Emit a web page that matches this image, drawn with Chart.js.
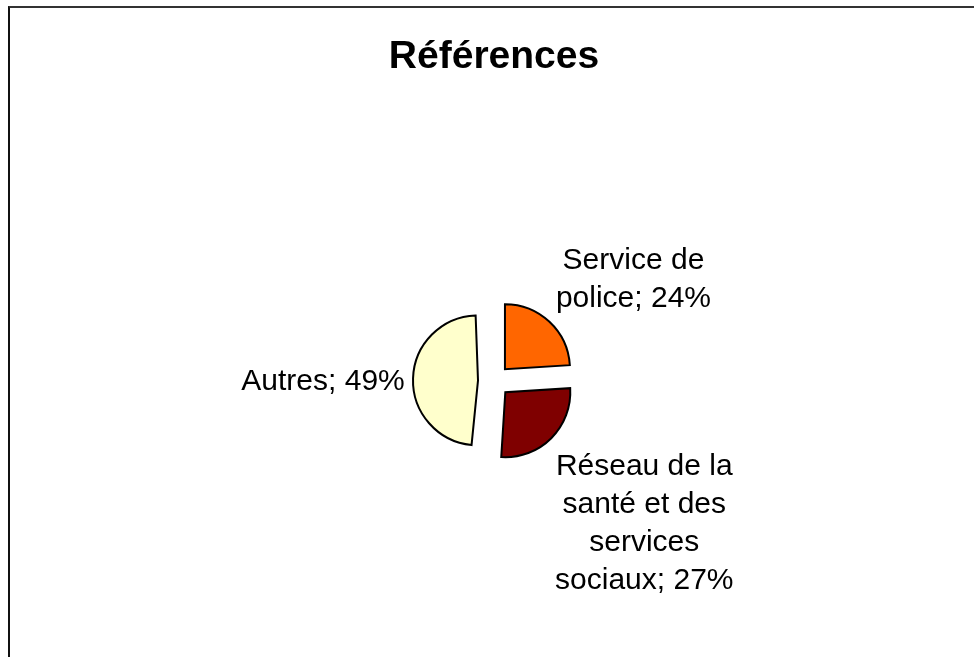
<!DOCTYPE html>
<html>
<head>
<meta charset="utf-8">
<title>Références</title>
<script src="https://cdn.jsdelivr.net/npm/chart.js@4"></script>
<style>
  html, body { margin: 0; padding: 0; background: #fff; overflow: hidden; }
  #wrap { position: relative; width: 974px; height: 657px; }
  #frame {
    position: absolute; left: 8px; top: 6px; width: 2000px; height: 2000px;
    border-left: 2px solid #111; border-top: 2px solid #333;
  }
  #myChart { position: absolute; left: 0; top: 0; }
</style>
</head>
<body>
<div id="wrap">
  <div id="frame"></div>
  <canvas id="myChart" width="974" height="657"></canvas>
</div>
<script>
const labels = [
  ['Service de', 'police; 24%'],
  ['Réseau de la', 'santé et des', 'services', 'sociaux; 27%'],
  ['Autres; 49%'],
];
const values = [24, 27, 49];
const colors = ['#FF6600', '#7F0000', '#FFFFCC'];

const RADIUS = 65;
const EXPLODE = 16;          // pixels each slice is pulled out
// where each label block sits, relative to the outer edge of its slice
const labelShift = [[84, -42], [93, 85.5], [-90, 3]];

// Chart.js moves a slice by offset / 4 and also grows wide slices;
// undo the growth so every slice keeps the same radius
const keepRadius = {
  id: 'keepRadius',
  beforeDatasetsDraw(chart) {
    chart.getDatasetMeta(0).data.forEach((arc) => {
      const c = arc.endAngle - arc.startAngle;
      const fix = 1 - Math.sin(Math.min(Math.PI, c));
      arc.outerRadius = RADIUS - EXPLODE * fix;
    });
  },
};

const sliceLabels = {
  id: 'sliceLabels',
  afterDatasetsDraw(chart) {
    const ctx = chart.ctx;
    const lineH = 38;
    ctx.save();
    ctx.font = '30px "Liberation Sans", Arial, sans-serif';
    ctx.fillStyle = '#000';
    ctx.textAlign = 'center';
    ctx.textBaseline = 'middle';
    chart.getDatasetMeta(0).data.forEach((arc, i) => {
      const mid = (arc.startAngle + arc.endAngle) / 2;
      const d = RADIUS + EXPLODE;
      const cx = arc.x + Math.cos(mid) * d + labelShift[i][0];
      const cy = arc.y + Math.sin(mid) * d + labelShift[i][1];
      const lines = labels[i];
      const top = cy - (lines.length - 1) * lineH / 2;
      lines.forEach((t, j) => ctx.fillText(t, cx, top + j * lineH));
    });
    ctx.restore();
  },
};

const ctx = document.getElementById('myChart').getContext('2d');

const data = {
  labels: labels.map((l) => l.join(' ')),
  datasets: [
    {
      data: values,
      backgroundColor: colors,
      borderColor: '#000',
      borderWidth: 2,
      borderJoinStyle: 'miter',
      offset: EXPLODE * 4,
    },
  ],
};

const config = {
  type: 'pie',
  data: data,
  options: {
    responsive: false,
    animation: false,
    radius: RADIUS,
    layout: { padding: { left: 14, right: 0, top: 0, bottom: 0 } },
    plugins: {
      legend: { display: false },
      tooltip: { enabled: false },
      title: {
        display: true,
        text: 'Références',
        color: '#000',
        font: { family: '"Liberation Sans", Arial, sans-serif', size: 39, weight: 'bold', lineHeight: 1.2 },
        padding: { top: 34, bottom: 24 },
      },
    },
  },
  plugins: [keepRadius, sliceLabels],
};

const myChart = new Chart(ctx, config);
</script>
</body>
</html>
